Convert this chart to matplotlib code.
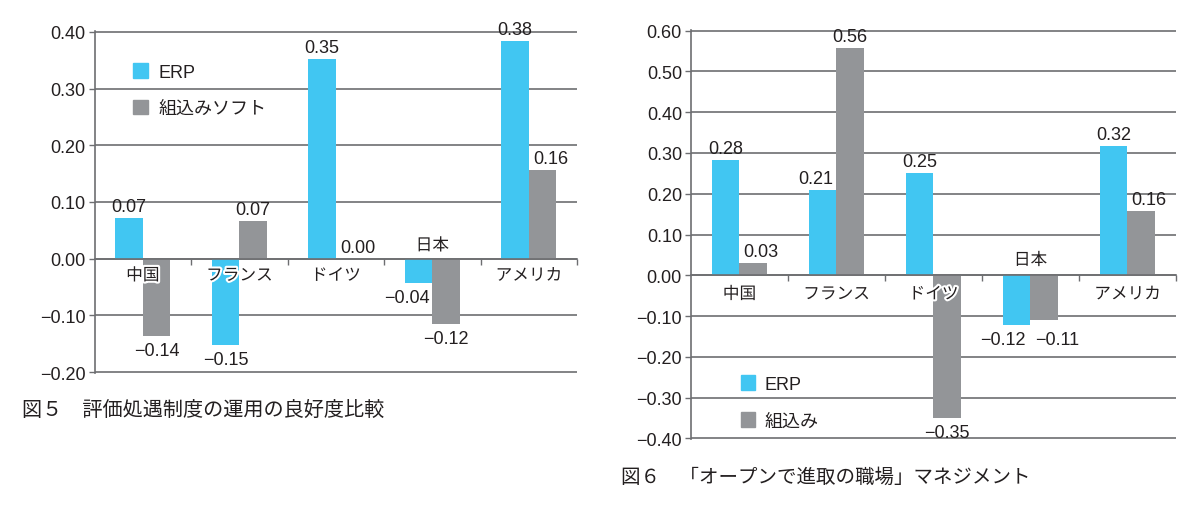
import matplotlib
matplotlib.use('Agg')

import matplotlib.pyplot as plt
import matplotlib.patheffects as pe
from matplotlib.patches import Patch

plt.rcParams['font.family'] = ['Liberation Sans', 'Noto Sans CJK JP']

# --- data ---
countries = ['中国', 'フランス', 'ドイツ', '日本', 'アメリカ']

# 図5 評価処遇制度の運用の良好度比較
fig5_erp = [0.072, -0.153, 0.352, -0.042, 0.384]
fig5_soft = [-0.137, 0.067, 0.0, -0.116, 0.156]
fig5_ticks = [-0.2, -0.1, 0.0, 0.1, 0.2, 0.3, 0.4]
fig5_labels = ['ERP', '組込みソフト']
fig5_title = '図５　評価処遇制度の運用の良好度比較'

# 図6 「オープンで進取の職場」マネジメント
fig6_erp = [0.283, 0.209, 0.25, -0.121, 0.316]
fig6_emb = [0.031, 0.558, -0.351, -0.109, 0.158]
fig6_ticks = [-0.4, -0.3, -0.2, -0.1, 0.0, 0.1, 0.2, 0.3, 0.4, 0.5, 0.6]
fig6_labels = ['ERP', '組込み']
fig6_title = '図６　「オープンで進取の職場」マネジメント'

# --- style ---
ERP_COLOR = '#41c6f2'
GRAY_COLOR = '#939598'
TEXT_COLOR = '#231f20'
LINE_COLOR = '#6d6e71'
FS = 13


def fmt(v):
    s = f"{abs(v):.2f}"
    return ('\u2212' + s) if v < -0.0005 else s


def value_label(ax, x, y, v, ha='center', dx=0):
    if v >= 0:
        ax.annotate(fmt(v), (x, y), xytext=(dx, 7), textcoords='offset pixels',
                    ha=ha, va='baseline', fontsize=FS, color=TEXT_COLOR)
    else:
        ax.annotate(fmt(v), (x, y), xytext=(dx, -6), textcoords='offset pixels',
                    ha=ha, va='top', fontsize=FS, color=TEXT_COLOR)


def draw_chart(ax, erp, other, ticks, legend_labels, bar_w, cat_off, legend_kw):
    n = len(countries)
    centers = [i + 0.5 for i in range(n)]
    ax.bar([c - bar_w / 2 for c in centers], erp, width=bar_w, color=ERP_COLOR, zorder=2)
    ax.bar([c + bar_w / 2 for c in centers], other, width=bar_w, color=GRAY_COLOR, zorder=2)

    for c, e, g in zip(centers, erp, other):
        ex, gx = c - bar_w / 2, c + bar_w / 2
        if e * g > 0 and abs(e - g) < 0.03:
            # both bars nearly equal: spread labels apart below/above the deeper one
            deep = min(e, g) if e < 0 else max(e, g)
            value_label(ax, c, deep, e, ha='right', dx=-5)
            value_label(ax, c, deep, g, ha='left', dx=5)
        elif e * g > 0 or (g == 0 and e > 0):
            if abs(e) < abs(g):
                value_label(ax, c, e, e, ha='right', dx=-3)
                value_label(ax, gx, g, g)
            else:
                value_label(ax, ex, e, e)
                value_label(ax, c, g, g, ha='left', dx=4)
        else:
            value_label(ax, ex, e, e)
            value_label(ax, gx, g, g)

    # category names on the zero line
    for c, name, e, g in zip(centers, countries, erp, other):
        above = e < 0 and g < 0
        ax.annotate(name, (c, 0), xytext=(0, cat_off if above else -cat_off - 4),
                    textcoords='offset pixels', ha='center', va='center',
                    fontsize=12, color=TEXT_COLOR, zorder=3,
                    path_effects=[pe.withStroke(linewidth=3, foreground='white')])

    ax.set_xlim(0, n)
    ax.set_ylim(ticks[0] - 0.0015, ticks[-1] + 0.0015)
    ax.set_yticks(ticks)
    ax.set_yticklabels([fmt(t) for t in ticks], fontsize=FS, color=TEXT_COLOR)
    ax.set_xticks(range(1, n + 1))
    ax.set_xticklabels([])
    ax.yaxis.grid(True, color=LINE_COLOR, linewidth=1.2)
    ax.set_axisbelow(True)

    for side in ('top', 'right'):
        ax.spines[side].set_visible(False)
    ax.spines['bottom'].set_position(('data', 0))
    ax.spines['bottom'].set_color(LINE_COLOR)
    ax.spines['bottom'].set_linewidth(1.2)
    ax.spines['bottom'].set_zorder(2.5)
    ax.spines['left'].set_color(LINE_COLOR)
    ax.spines['left'].set_linewidth(1.2)
    ax.tick_params(axis='y', length=4.5, width=1, color=LINE_COLOR, pad=2)
    ax.tick_params(axis='x', length=4, width=1, color=LINE_COLOR, direction='out')

    handles = [Patch(color=ERP_COLOR), Patch(color=GRAY_COLOR)]
    ax.legend(handles, legend_labels, frameon=False, fontsize=FS, borderpad=0,
              borderaxespad=0, labelcolor=TEXT_COLOR, **legend_kw)


fig = plt.figure(figsize=(12, 5.06), dpi=100)

ax5 = fig.add_axes([0.0788, 0.2609, 0.4021, 0.6759])
draw_chart(ax5, fig5_erp, fig5_soft, fig5_ticks, fig5_labels, 0.285, 13,
           dict(loc='upper left', bbox_to_anchor=(0.08, 0.905), handlelength=0.83,
                handleheight=0.83, handletextpad=0.55, labelspacing=1.05))

ax6 = fig.add_axes([0.5758, 0.1304, 0.4042, 0.8083])
draw_chart(ax6, fig6_erp, fig6_emb, fig6_ticks, fig6_labels, 0.28, 15,
           dict(loc='lower left', bbox_to_anchor=(0.103, 0.023), handlelength=0.78,
                handleheight=0.9, handletextpad=0.5, labelspacing=1.05))

fig.text(22 / 1200, 1 - 410 / 506, fig5_title, fontsize=14.5, color=TEXT_COLOR,
         ha='left', va='center', family=['Noto Sans CJK JP'])
fig.text(621 / 1200, 1 - 477 / 506, fig6_title, fontsize=14, color=TEXT_COLOR,
         ha='left', va='center', family=['Noto Sans CJK JP'])

fig.savefig('out.png', dpi=100, facecolor='white')
